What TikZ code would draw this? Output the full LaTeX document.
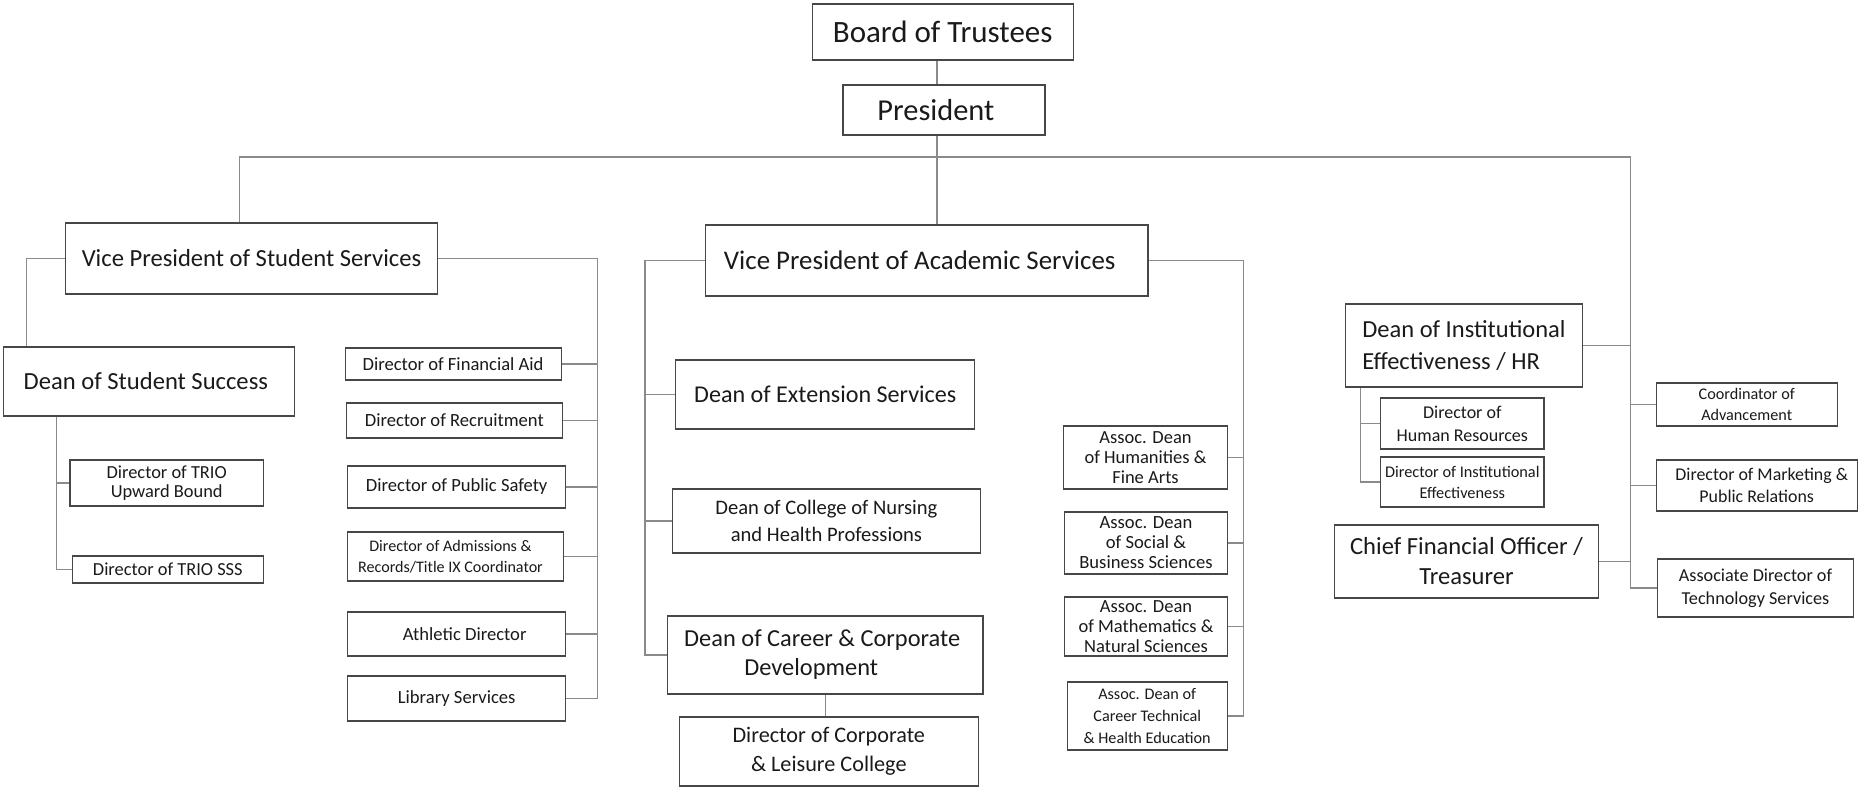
\documentclass[tikz,border=0pt]{standalone}
\usepackage{fontspec}
\setmainfont{Carlito}
\newcommand\chartfs[2]{\fontsize{#1}{#2}\selectfont}
\definecolor{boxc}{HTML}{474747}
\definecolor{linec}{HTML}{8A8A8A}
\definecolor{inkc}{HTML}{1A1A1A}
\begin{document}
\begin{tikzpicture}[x=1pt,y=-1pt,
  box/.style={draw=boxc, line width=1.2pt, fill=white, inner sep=1pt,
              align=center, text=inkc},
  link/.style={draw=linec, line width=1.2pt}]
\fill[white] (0,0) rectangle (1858,788);
\useasboundingbox (0,0) rectangle (1858,788);

% top of the chart
\node[box, minimum width=261, minimum height=56, font=\chartfs{31}{36}] (bot) at (942.7,32) {Board of Trustees};
\node[box, minimum width=202, minimum height=50, font=\chartfs{30.4}{36}] (pres) at (943.9,110) {President\hspace*{16pt}};

% vice presidents
\node[box, minimum width=372.5, minimum height=71, font=\chartfs{24.6}{29}] (vpss) at (251.5,258.5) {Vice President of Student Services};
\node[box, minimum width=442.5, minimum height=71, font=\chartfs{26.9}{32}] (vpas) at (926.7,260.5) {Vice President of Academic Services\hspace*{14pt}};

% student services
\node[box, minimum width=290.6, minimum height=69, font=\chartfs{24.6}{29}] (dss) at (148.9,381.5) {Dean of Student Success\hspace*{6pt}};
\node[box, minimum width=193.3, minimum height=46, font=\chartfs{18.4}{19}] (trio) at (166.7,483) {Director of TRIO\\Upward Bound};
\node[box, minimum width=191, minimum height=27, font=\chartfs{18.4}{21}] (sss) at (167.8,569.5) {Director of TRIO SSS};
\node[box, minimum width=216, minimum height=32, font=\chartfs{18.6}{21}] (finaid) at (453.1,364) {Director of Financial Aid};
\node[box, minimum width=216, minimum height=35, font=\chartfs{18.6}{21}] (recruit) at (454.3,420.5) {Director of Recruitment};
\node[box, minimum width=218.3, minimum height=42, font=\chartfs{18.6}{21}] (safety) at (456.7,487) {Director of Public Safety};
\node[box, minimum width=216, minimum height=49, font=\chartfs{16.1}{21}] (admis) at (455.5,556.5) {Director of Admissions \&\hspace*{10pt}\\Records/Title IX Coordinator\hspace*{10pt}};
\node[box, minimum width=218.3, minimum height=44, font=\chartfs{18.6}{21}] (athletic) at (456.7,634) {\hspace*{16pt}Athletic Director};
\node[box, minimum width=218.3, minimum height=45, font=\chartfs{18.6}{21}] (library) at (456.7,698.5) {Library Services};

% academic services
\node[box, minimum width=299, minimum height=69, font=\chartfs{24.1}{29}] (ext) at (825.3,394.5) {Dean of Extension Services};
\node[box, minimum width=308.4, minimum height=64, font=\chartfs{20.6}{27}] (nursing) at (826.4,521) {Dean of College of Nursing\\and Health Professions};
\node[box, minimum width=315.6, minimum height=78, font=\chartfs{24.4}{29}] (career) at (825.2,655) {Dean of Career \& Corporate\hspace*{6pt}\\Development\hspace*{28pt}};
\node[box, minimum width=299, minimum height=69, font=\chartfs{22.2}{29}] (dircorp) at (828.8,751.5) {Director of Corporate\\\& Leisure College};
\node[box, minimum width=163.7, minimum height=63, font=\chartfs{18.5}{20}] (hum) at (1145.5,457.5) {Assoc. Dean\\of Humanities \&\\Fine Arts};
\node[box, minimum width=162.5, minimum height=62, font=\chartfs{18.6}{20}] (soc) at (1146,543) {Assoc. Dean\\of Social \&\\Business Sciences};
\node[box, minimum width=162.5, minimum height=59, font=\chartfs{18.5}{20}] (math) at (1146,626.5) {Assoc. Dean\\of Mathematics \&\\Natural Sciences};
\node[box, minimum width=160.1, minimum height=68, font=\chartfs{16.2}{22}] (ct) at (1147.2,716) {Assoc. Dean of\\Career Technical\\\& Health Education};

% offices reporting to the president
\node[box, minimum width=237.7, minimum height=83, font=\chartfs{24.5}{32}, align=left] (ie) at (1464,345.5) {Dean of Institutional\\Effectiveness / HR};
\node[box, minimum width=163.2, minimum height=51, font=\chartfs{18}{23}] (hr) at (1462.3,423.5) {Director of\\Human Resources};
\node[box, minimum width=163.2, minimum height=50, font=\chartfs{16.3}{21}] (die) at (1462.3,482) {Director of Institutional\\Effectiveness};
\node[box, minimum width=263.7, minimum height=73, font=\chartfs{24.6}{30}] (cfo) at (1466.5,561.5) {Chief Financial Officer /\\Treasurer};
\node[box, minimum width=180.9, minimum height=43, font=\chartfs{16.2}{21}] (coord) at (1746.7,404.5) {Coordinator of\\Advancement};
\node[box, minimum width=201, minimum height=51, font=\chartfs{17.9}{22}] (mkt) at (1756.7,485.5) {\hspace*{10pt}Director of Marketing \&\\Public Relations};
\node[box, minimum width=196.3, minimum height=58, font=\chartfs{18.2}{23}] (tech) at (1755.5,588) {Associate Director of\\Technology Services};

% trunk lines
\coordinate (mid) at (937,0);
\coordinate (busL) at (239.6,157);
\coordinate (busR) at (1630.2,157);
\coordinate (ssL) at (26.1,0);
\coordinate (ssR) at (597.8,0);
\coordinate (dsL) at (56.7,0);
\coordinate (asL) at (644.9,0);
\coordinate (asR) at (1243.2,0);
\coordinate (ieL) at (1360.6,0);

\draw[link] (mid |- bot.south) -- (mid |- pres.north);
\draw[link] (mid |- pres.south) -- (mid |- vpas.north);
\draw[link] (busL |- vpss.north) -- (busL) -- (busR) -- (busR |- tech.west) -- (tech.west);
\draw[link] (ie.east) -- (ie.east -| busR);
\draw[link] (cfo.east) -- (cfo.east -| busR);
\draw[link] (coord.west) -- (coord.west -| busR);
\draw[link] (mkt.west) -- (mkt.west -| busR);

% student services branches
\draw[link] (vpss.west) -| (ssL |- dss.north);
\draw[link] (vpss.east) -| (ssR |- library.east) -- (library.east);
\foreach \n in {finaid,recruit,safety,admis,athletic}
  \draw[link] (\n.east) -- (\n.east -| ssR);
\draw[link] (dsL |- dss.south) |- (sss.west);
\draw[link] (trio.west) -- (trio.west -| dsL);

% academic services branches
\draw[link] (vpas.west) -| (asL |- career.west) -- (career.west);
\foreach \n in {ext,nursing}
  \draw[link] (\n.west) -- (\n.west -| asL);
\draw[link] (vpas.east) -| (asR |- ct.east) -- (ct.east);
\foreach \n in {hum,soc,math}
  \draw[link] (\n.east) -- (\n.east -| asR);
\draw[link] (career.south) -- (career.south |- dircorp.north);

% institutional effectiveness branches
\draw[link] (ieL |- ie.south) |- (die.west);
\draw[link] (hr.west) -- (hr.west -| ieL);
\end{tikzpicture}
\end{document}
